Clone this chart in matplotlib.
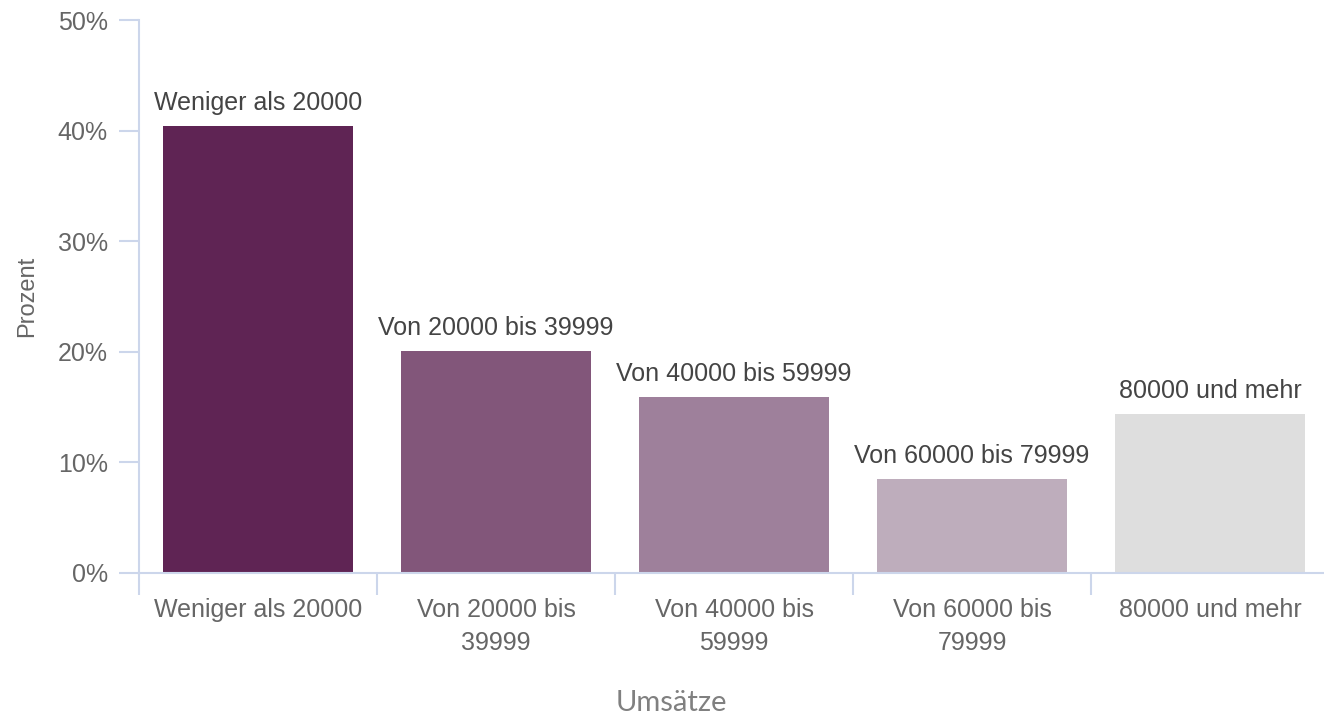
import matplotlib.pyplot as plt
import numpy as np
from matplotlib.ticker import FixedLocator, PercentFormatter

categories = [
    "Weniger als 20000",
    "Von 20000 bis 39999",
    "Von 40000 bis 59999",
    "Von 60000 bis 79999",
    "80000 und mehr",
]
tick_labels = [
    "Weniger als 20000",
    "Von 20000 bis\n39999",
    "Von 40000 bis\n59999",
    "Von 60000 bis\n79999",
    "80000 und mehr",
]
percent = [40.4, 20.1, 15.9, 8.5, 14.4]
colors = ["#5f2454", "#82567a", "#9e809b", "#beadbc", "#dedede"]

AXIS_COLOR = "#ccd6eb"
TEXT_COLOR = "#666666"
LABEL_COLOR = "#444444"

plt.rcParams["font.family"] = ["Liberation Sans", "DejaVu Sans"]

fig = plt.figure(figsize=(13.24, 7.18), dpi=100)
ax = fig.add_axes([139 / 1324, 145 / 718, 1190 / 1324, 553 / 718])

x = np.arange(len(categories))
ax.bar(x, percent, width=0.8, color=colors)

# category names sit on top of the bars as data labels
for xi, val, name in zip(x, percent, categories):
    ax.annotate(name, (xi, val), xytext=(0, 8), textcoords="offset points",
                ha="center", va="bottom", fontsize=18, color=LABEL_COLOR)

ax.set_xlim(-0.5, len(categories) - 0.5)
ax.set_ylim(0, 50)

ax.set_xticks(x)
ax.set_xticklabels(tick_labels, fontsize=18, color=TEXT_COLOR, linespacing=1.5)
ax.xaxis.set_minor_locator(FixedLocator(np.arange(-0.5, len(categories), 1.0)))
ax.tick_params(axis="x", which="major", length=0, pad=18)
ax.tick_params(axis="x", which="minor", length=16, width=1.5, color=AXIS_COLOR)

ax.set_yticks(np.arange(0, 51, 10))
ax.yaxis.set_major_formatter(PercentFormatter(decimals=0))
ax.tick_params(axis="y", length=14.5, width=1.5, color=AXIS_COLOR,
               labelsize=18, labelcolor=TEXT_COLOR, pad=8)

for side in ["top", "right"]:
    ax.spines[side].set_visible(False)
for side in ["left", "bottom"]:
    ax.spines[side].set_color(AXIS_COLOR)
    ax.spines[side].set_linewidth(1.5)

ax.set_ylabel("Prozent", fontsize=17, color=TEXT_COLOR, labelpad=14)
fig.text(671 / 1324, 1 - 703 / 718, "Umsätze", ha="center", va="center",
         fontsize=21, color="#808080", family=["Lato", "DejaVu Sans"])

fig.savefig("out.png", dpi=100)
